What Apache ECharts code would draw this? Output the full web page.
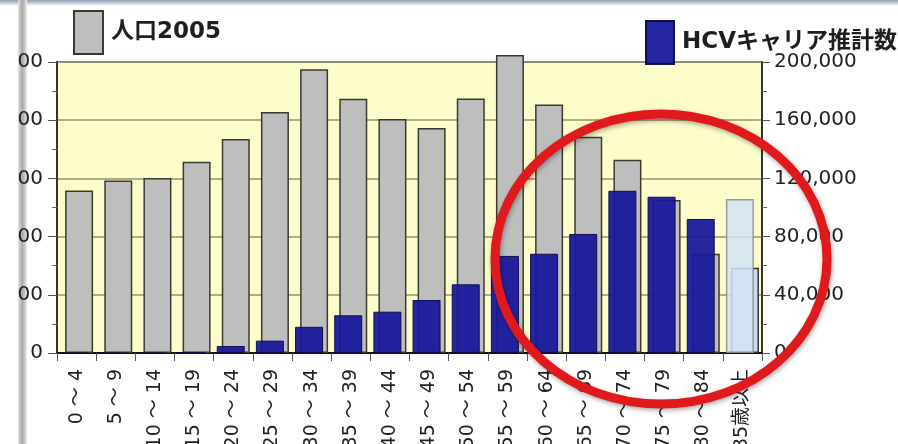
<!DOCTYPE html>
<html>
<head>
<meta charset="utf-8">
<script src="https://cdn.jsdelivr.net/npm/echarts@6/dist/echarts.min.js"></script>
<style>
  html, body { margin: 0; padding: 0; background: #fff; width: 898px; height: 444px; overflow: hidden; position: relative; }
  #topEdge { position: absolute; left: 0; top: 0; width: 898px; height: 6px; background: linear-gradient(#8f9bb0, #ffffff); }
  #sideEdge { position: absolute; left: 18px; top: 0; width: 9px; height: 444px;
              background: linear-gradient(to right, #e4e4e4, #a8a8a8 45%, #c6c6c6 75%, #f2f2f2); }
  #chart { position: absolute; left: 18px; top: 0; width: 880px; height: 444px; }
</style>
</head>
<body>
<div id="topEdge"></div>
<div id="sideEdge"></div>
<div id="chart"></div>
<script>
// Age groups (5-year bands)
const ageGroups = [
  '0 ～ 4', '5 ～ 9', '10 ～ 14', '15 ～ 19', '20 ～ 24', '25 ～ 29',
  '30 ～ 34', '35 ～ 39', '40 ～ 44', '45 ～ 49', '50 ～ 54', '55 ～ 59',
  '60 ～ 64', '65 ～ 69', '70 ～ 74', '75 ～ 79', '80 ～ 84', '85歳以上'
];

// Population by age group, 2005 (left axis)
const population2005 = [
  5580000, 5930000, 6010000, 6570000, 7350000, 8280000,
  9750000, 8740000, 8040000, 7730000, 8750000, 10240000,
  8540000, 7430000, 6640000, 5260000, 3410000, 2930000
];

// Estimated number of HCV carriers (right axis)
const hcvCarriers = [
  0, 0, 0, 700, 4800, 8500,
  18000, 25900, 28400, 36400, 47200, 66700,
  68200, 81800, 111500, 107400, 92100, 105800
];

// Axis scales
const popAxisMax = 10000000;
const popAxisStep = 2000000;
const hcvAxisMax = 200000;
const hcvAxisStep = 40000;

const popName = '人口2005';
const hcvName = 'HCVキャリア推計数';

const fontFamily = '"DejaVu Sans", "Noto Sans CJK JP", sans-serif';
const lastIdx = ageGroups.length - 1;

const chart = echarts.init(document.getElementById('chart'), null, { renderer: 'canvas' });

const legendText = { fontSize: 23, fontWeight: 'bold', color: '#1e1e1e', fontFamily: fontFamily, padding: [0, 0, 0, 3] };

chart.setOption({
  animation: false,
  textStyle: { fontFamily: fontFamily },
  legend: [
    {
      data: [popName], left: 50, top: 5, icon: 'rect',
      itemWidth: 29, itemHeight: 43, textStyle: legendText, selectedMode: false
    },
    {
      data: [hcvName], left: 622, top: 15, icon: 'rect',
      itemWidth: 28, itemHeight: 43, textStyle: legendText, selectedMode: false
    }
  ],
  grid: {
    left: 39, right: 136, top: 62, bottom: 91,
    containLabel: false, outerBoundsMode: 'none',
    show: true, backgroundColor: '#fdfccb', borderColor: '#5c5c50', borderWidth: 1.5
  },
  xAxis: {
    type: 'category',
    data: ageGroups,
    axisLine: { lineStyle: { color: '#111', width: 2 } },
    axisTick: { show: true, length: 8, lineStyle: { color: '#555' } },
    axisLabel: { rotate: 90, fontSize: 19, color: '#222', margin: 16, fontFamily: fontFamily }
  },
  yAxis: [
    {
      type: 'value', min: 0, max: popAxisMax, interval: popAxisStep,
      axisLine: { show: true, lineStyle: { color: '#333', width: 2 } },
      axisTick: { show: true, length: 9, lineStyle: { color: '#555' } },
      minorTick: { show: true, splitNumber: 2, length: 5, lineStyle: { color: '#666' } },
      splitLine: { show: true, lineStyle: { color: '#94926e', width: 1.5 } },
      axisLabel: {
        fontSize: 20, color: '#222', margin: 14, fontFamily: fontFamily,
        formatter: v => v.toLocaleString('en-US')
      }
    },
    {
      type: 'value', min: 0, max: hcvAxisMax, interval: hcvAxisStep,
      axisLine: { show: true, lineStyle: { color: '#333', width: 2 } },
      axisTick: { show: true, length: 8, lineStyle: { color: '#555' } },
      minorTick: { show: true, splitNumber: 2, length: 5, lineStyle: { color: '#666' } },
      splitLine: { show: false },
      axisLabel: {
        fontSize: 20, color: '#222', margin: 12, fontFamily: fontFamily,
        formatter: v => v.toLocaleString('en-US')
      }
    }
  ],
  series: [
    {
      name: hcvName, type: 'bar', yAxisIndex: 1,
      barWidth: 28, barGap: '-82%', z: 3,
      itemStyle: { color: '#18189c', borderColor: '#0b0b45', borderWidth: 1, opacity: 0.94 },
      data: hcvCarriers.map((v, i) => i === lastIdx
        ? { value: v, itemStyle: { color: '#d2e4f4', borderColor: '#8c8c8c', borderWidth: 1.5, opacity: 0.85 } }
        : v)
    },
    {
      name: popName, type: 'bar', yAxisIndex: 0,
      barWidth: 28, barGap: '-82%', z: 2, clip: false,
      itemStyle: { color: '#bebebe', borderColor: '#3b3b2c', borderWidth: 1.5 },
      data: population2005.map((v, i) => i === lastIdx
        ? { value: v, itemStyle: { color: '#c9ddf0', borderColor: '#333' } }
        : v)
    }
  ],
  graphic: [
    {
      type: 'ellipse', z: 100, silent: true,
      shape: { cx: 643, cy: 259, rx: 166, ry: 145 },
      style: {
        fill: 'none', stroke: '#e01a1c', lineWidth: 9,
        shadowBlur: 5, shadowColor: 'rgba(0,0,0,0.35)', shadowOffsetX: 1, shadowOffsetY: 2
      }
    }
  ]
});
</script>
</body>
</html>
